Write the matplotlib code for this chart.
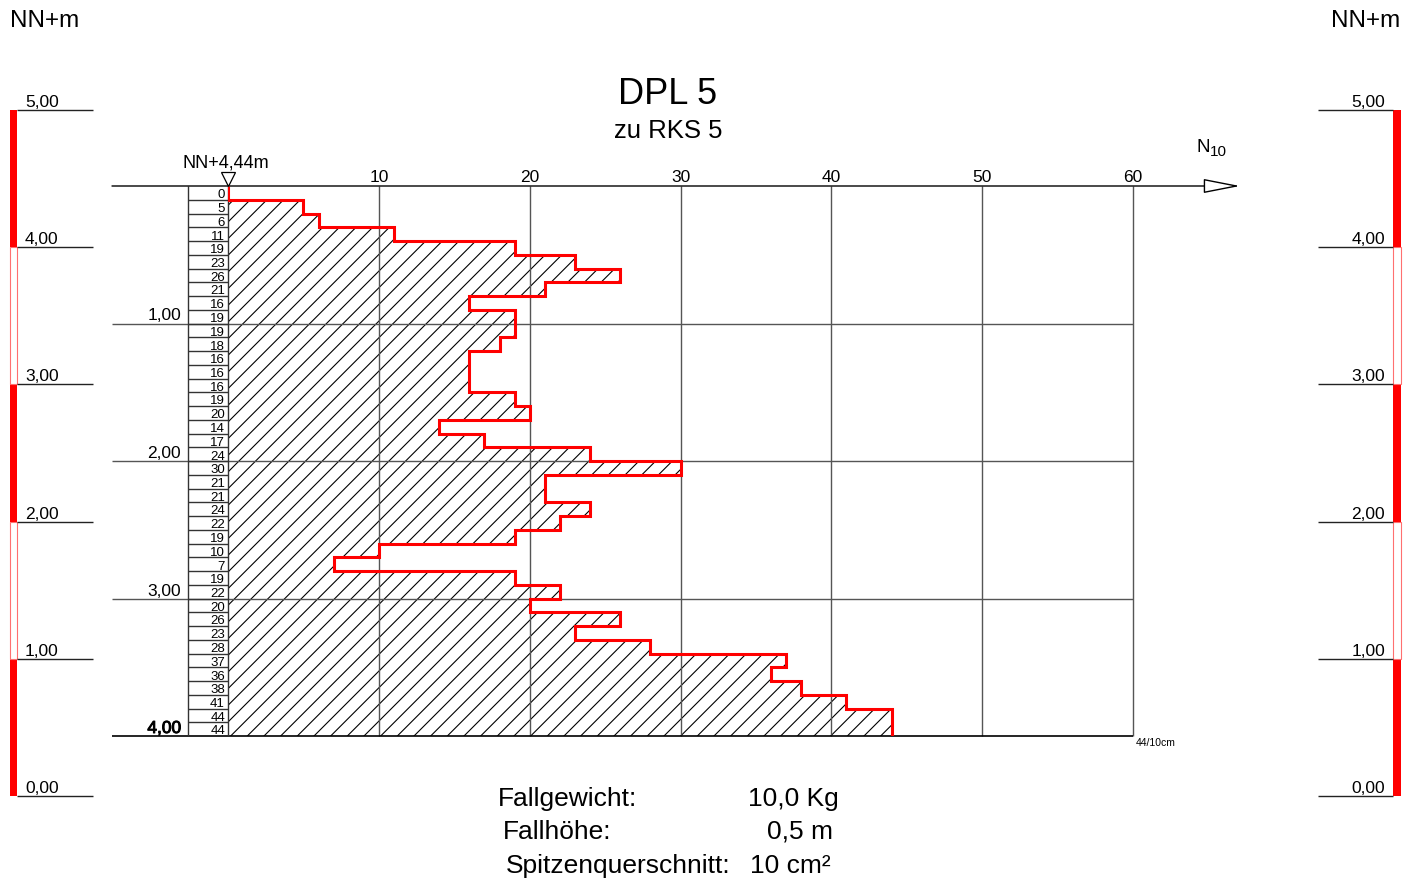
import matplotlib
matplotlib.use("Agg")
import numpy as np
import matplotlib.pyplot as plt
import matplotlib.patheffects as pe

plt.rcParams['font.family'] = ['Liberation Sans', 'DejaVu Sans']
plt.rcParams['hatch.linewidth'] = 0.8

# --- data -------------------------------------------------------------
# blows per 10 cm (DPL 5), one value per 0.1 m from 0.0 to 4.0 m depth
n10 = [0, 5, 6, 11, 19, 23, 26, 21, 16, 19,
       19, 18, 16, 16, 16, 19, 20, 14, 17, 24,
       30, 21, 21, 24, 22, 19, 10, 7, 19, 22,
       20, 26, 23, 28, 37, 36, 38, 41, 44, 44]
step = 0.1
depth_ticks = [1, 2, 3, 4]
depth_labels = ["1,00", "2,00", "3,00", "4,00"]
n_ticks = [10, 20, 30, 40, 50, 60]
elev_levels = [0, 1, 2, 3, 4, 5]
elev_labels = ["0,00", "1,00", "2,00", "3,00", "4,00", "5,00"]
ground_label = "NN+4,44m"
title = "DPL 5"
subtitle = "zu RKS 5"
param_names = ["Fallgewicht:", "Fallhöhe:", "Spitzenquerschnitt:"]
param_values = ["10,0 Kg", "0,5 m", "10 cm²"]

W, H = 1413, 883
RED = '#ff0000'
GRID = '#555555'

fig = plt.figure(figsize=(W / 100, H / 100), dpi=100)


def fx(x):
    return x / W


def fy(y):
    return 1 - y / H


# --- main sounding axes (x: N10 0..60, y: depth 0..4 m) ----------------
ax = fig.add_axes([fx(228), fy(736), (1133 - 228) / W, (736 - 186) / H])
ax.set_xlim(0, 60)
ax.set_ylim(4, 0)
for s in ax.spines.values():
    s.set_visible(False)

upx = 60 / 905      # data units per pixel (x)
dpx = 4 / 550       # depth per pixel (y)

edges = np.arange(len(n10) + 1) * step
ax.stairs(n10, edges, orientation='horizontal', baseline=0, fill=True,
          facecolor='none', edgecolor='black', hatch='//', linewidth=0, zorder=1)
ax.stairs(n10, edges, orientation='horizontal', baseline=None,
          color=RED, linewidth=2.2, zorder=4)

# grid
ax.set_xticks(n_ticks)
ax.set_yticks([])
ax.vlines(n_ticks, 0, depth_ticks[-1], color=GRID, linewidth=1, clip_on=False, zorder=2)
ax.tick_params(axis='x', top=True, labeltop=True, bottom=False, labelbottom=False,
               length=0, pad=0.5, labelsize=12.5)
x_left = -116 * upx
ax.hlines(depth_ticks[:-1], x_left, 60, color=GRID, linewidth=1, clip_on=False, zorder=2)
ax.hlines([depth_ticks[-1]], x_left, 60, color='black', linewidth=1.2, clip_on=False, zorder=2)
ax.annotate('', xy=((1240 - 228) * upx, 0), xytext=(x_left, 0),
            arrowprops=dict(arrowstyle='-|>,head_length=2.3,head_width=0.45',
                            facecolor='white', edgecolor='black', linewidth=1,
                            shrinkA=0, shrinkB=0),
            annotation_clip=False, zorder=3)

for d, lab in zip(depth_ticks, depth_labels):
    t = ax.text(-47 * upx, d - 3 * dpx, lab, ha='right', va='baseline', fontsize=12.5)
    if d == depth_ticks[-1]:
        t.set_path_effects([pe.withStroke(linewidth=0.7, foreground='black')])

# blow count column
col_left = -40 * upx
ax.vlines([col_left, 0], 0, edges[-1], color='#333333', linewidth=1, clip_on=False)
ax.hlines(edges[1:-1], col_left, 0, color='#333333', linewidth=1, clip_on=False)
for i, v in enumerate(n10):
    ax.text(-3 * upx, edges[i + 1] - 1.5 * dpx, str(v), ha='right', va='baseline',
            fontsize=9.5, clip_on=False)

# ground level marker
ax.plot([0], [-7 * dpx], marker='v', markersize=10, markerfacecolor='white',
        markeredgecolor='black', markeredgewidth=0.9, clip_on=False, zorder=5)
ax.text(-2 * upx, -18 * dpx, ground_label, ha='center', va='baseline', fontsize=13)

# --- elevation scales ---------------------------------------------------
def elevation_scale(left, bar_x, bar_w, line_x0, line_x1, lab_x, ha):
    a = fig.add_axes([fx(left), fy(796), 83 / W, (796 - 110) / H])
    a.set_xlim(0, 83)
    a.set_ylim(0, 5)
    a.axis('off')
    for lo in elev_levels[:-1]:
        filled = lo % 2 == 0
        a.bar(bar_x, 1, bottom=lo, width=bar_w,
              color=RED if filled else 'white',
              edgecolor=RED if filled else '#ff7070',
              linewidth=0 if filled else 0.8, clip_on=False)
    a.hlines(elev_levels, line_x0, line_x1, color='#222222', linewidth=1, clip_on=False)
    for lv, lab in zip(elev_levels, elev_labels):
        a.text(lab_x, lv + 0.022, lab, ha=ha, va='baseline', fontsize=12.5)
    return a


elevation_scale(10, 3.5, 7, 7, 83, 15, 'left')
elevation_scale(1318, 79, 8, 0, 75, 67, 'right')

fig.text(fx(10), fy(27), "NN+m", ha='left', va='baseline', fontsize=17.5)
fig.text(fx(1400), fy(27), "NN+m", ha='right', va='baseline', fontsize=17.5)

# --- titles and notes ---------------------------------------------------
fig.text(fx(668), fy(104), title, ha='center', va='baseline', fontsize=26)
fig.text(fx(668), fy(138), subtitle, ha='center', va='baseline', fontsize=18.5)
fig.text(fx(1196), fy(152), "N", ha='left', va='baseline', fontsize=13.5)
fig.text(fx(1210), fy(156), "10", ha='left', va='baseline', fontsize=11)
fig.text(fx(1136), fy(746), "44/10cm", ha='left', va='baseline', fontsize=7.5)

name_x = [498, 503, 506]
val_x = [748, 833, 750]
val_ha = ['left', 'right', 'left']
base_y = [806, 839, 873]
for nm, vl, nx, vx, ha, by in zip(param_names, param_values, name_x, val_x, val_ha, base_y):
    fig.text(fx(nx), fy(by), nm, ha='left', va='baseline', fontsize=19)
    fig.text(fx(vx), fy(by), vl, ha=ha, va='baseline', fontsize=19)

fig.savefig("out.png", dpi=100)
